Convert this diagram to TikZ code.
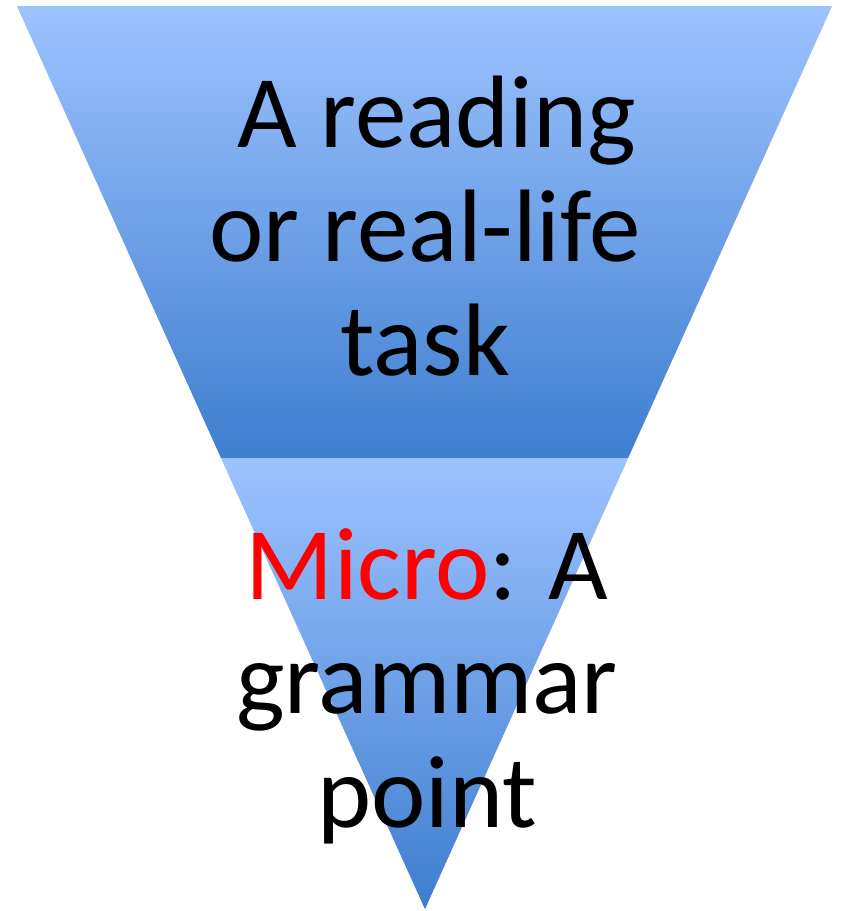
\documentclass[tikz,border=0pt]{standalone}
\usepackage{fontspec}
\setmainfont{Carlito}
\definecolor{funneltop}{HTML}{9DC3FF}
\definecolor{funnelbottom}{HTML}{3E7ECF}
\definecolor{microred}{HTML}{FF0000}

\begin{document}
\begin{tikzpicture}[x=1pt,y=-1pt,
  band/.style={top color=funneltop,bottom color=funnelbottom,draw=none},
  bandtext/.style={align=center,inner sep=0pt,anchor=base,
    font=\fontsize{103}{114}\selectfont}]

  % bounding box
  \useasboundingbox (0,0) rectangle (841,911);

  % funnel corners
  \coordinate (tl) at (17,6);
  \coordinate (tr) at (832,6);
  \coordinate (ml) at (221,458);
  \coordinate (mr) at (628,458);
  \coordinate (tip) at (425,909);

  % shadow
  \fill[black,opacity=0.18,xshift=1.5pt,yshift=-2.5pt]
    (tl) -- (tr) -- (tip) -- cycle;

  % bands
  \shade[band] (tl) -- (tr) -- (mr) -- (ml) -- cycle;
  \shade[band] (ml) -- (mr) -- (tip) -- cycle;

  % texts (base = last line)
  \node[bandtext] (task) at (425,375)
    {\hspace*{0.23em}A reading\\or real-life\\task};
  \node[bandtext] (grammar) at (427,827)
    {\textcolor{microred}{Micro}: A\\grammar\\point};

\end{tikzpicture}
\end{document}
